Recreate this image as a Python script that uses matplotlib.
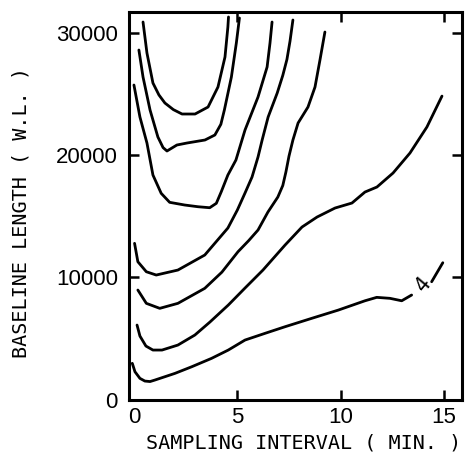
import matplotlib
matplotlib.use("Agg")
import matplotlib.pyplot as plt

# contour lines: sampling interval (min) vs baseline length (w.l.)
a_x = [-0.09, 0.04, 0.28, 0.52, 0.77, 1.0, 1.98, 2.79, 3.75, 4.56, 5.37, 6.34, 7.31, 8.60, 9.89, 11.18, 11.75, 12.39, 12.96, 13.44]
a_y = [2970, 2280, 1740, 1520, 1480, 1600, 2150, 2690, 3375, 4054, 4871, 5420, 5960, 6645, 7320, 8080, 8360, 8280, 8080, 8550]
a_tail_x = [14.41, 14.95]
a_tail_y = [9636, 11190]

b_x = [0.14, 0.28, 0.57, 0.91, 1.35, 2.12, 2.94, 3.67, 4.56, 5.37, 6.24, 7.31, 8.13, 8.86, 9.73, 10.55, 11.18, 11.76, 12.54, 13.36, 14.18, 14.91]
b_y = [6097, 5198, 4381, 4054, 4054, 4462, 5280, 6342, 7731, 9121, 10592, 12635, 14106, 14924, 15659, 16068, 16967, 17376, 18520, 20155, 22280, 24806]

c_x = [0.18, 0.59, 1.24, 2.12, 3.42, 4.25, 5.03, 5.55, 6.00, 6.48, 6.96, 7.20, 7.35, 7.50, 7.69, 7.94, 8.42, 8.76, 9.00, 9.24]
c_y = [8958, 7871, 7462, 7871, 9097, 10420, 12088, 13000, 13861, 15332, 16558, 17500, 18600, 19900, 21216, 22606, 23913, 25548, 27754, 30043]

d_x = [0.02, 0.18, 0.59, 1.07, 2.12, 3.42, 4.54, 5.0, 5.37, 5.71, 6.00, 6.20, 6.49, 6.93, 7.20, 7.40, 7.55, 7.69]
d_y = [12775, 11270, 10453, 10184, 10592, 11818, 14025, 15500, 16886, 18194, 19829, 21218, 23098, 25059, 26500, 27800, 29300, 31025]

e_x = [-0.01, 0.28, 0.62, 0.91, 1.31, 1.72, 2.45, 3.09, 3.66, 3.98, 4.22, 4.54, 4.93, 5.37, 6.00, 6.44, 6.58, 6.68]
e_y = [25712, 23097, 20972, 18357, 16861, 16125, 15905, 15766, 15684, 16044, 16992, 18357, 19583, 22034, 24731, 27183, 29144, 30861]

f_x = [0.23, 0.43, 0.77, 1.15, 1.40, 1.59, 2.07, 2.56, 3.43, 3.91, 4.20, 4.37, 4.71, 4.95, 5.10]
f_y = [28573, 26367, 23670, 21463, 20600, 20319, 20809, 20972, 21218, 21627, 22500, 23670, 26367, 29146, 31189]

g_x = [0.43, 0.62, 0.91, 1.20, 1.49, 1.90, 2.32, 2.95, 3.58, 4.06, 4.40, 4.54, 4.57]
g_y = [30861, 28328, 25876, 24900, 24241, 23700, 23342, 23342, 23914, 25549, 28001, 30453, 31270]

xticks = [0, 5, 10, 15]
yticks = [0, 10000, 20000, 30000]

fig = plt.figure(figsize=(4.67, 4.67), dpi=100)
ax = fig.add_axes([0.2762, 0.1442, 0.7131, 0.8301])

for xs, ys in [(a_x, a_y), (a_tail_x, a_tail_y), (b_x, b_y), (c_x, c_y),
               (d_x, d_y), (e_x, e_y), (f_x, f_y), (g_x, g_y)]:
    ax.plot(xs, ys, color='black', lw=2.0, solid_joinstyle='round', solid_capstyle='round')

ax.text(13.99, 9400, '4', rotation=50, ha='center', va='center',
        family='DejaVu Sans Mono', fontsize=15)

ax.set_xlim(-0.25, 15.88)
ax.set_ylim(0, 31678)
ax.set_xticks(xticks)
ax.set_yticks(yticks)
ax.set_xticklabels([str(t) for t in xticks], family='Liberation Sans', fontsize=16)
ax.set_yticklabels([str(t) for t in yticks], family='Liberation Sans', fontsize=16)
ax.tick_params(direction='in', length=7, width=1.8, top=True, right=True)
ax.tick_params(axis='x', pad=5)
ax.tick_params(axis='y', pad=8)
t0 = ax.xaxis.get_major_ticks()[0]
t0.tick1line.set_visible(False)
t0.tick2line.set_visible(False)
for s in ax.spines.values():
    s.set_linewidth(2.2)

ax.set_xlabel('SAMPLING INTERVAL ( MIN. )', family='DejaVu Sans Mono', fontsize=14.5)
ax.set_ylabel('BASELINE LENGTH ( W.L. )', family='DejaVu Sans Mono', fontsize=14.5)
ax.xaxis.set_label_coords(0.525, -0.088)
ax.yaxis.set_label_coords(-0.297, 0.482)

plt.savefig('out.png', dpi=100)
